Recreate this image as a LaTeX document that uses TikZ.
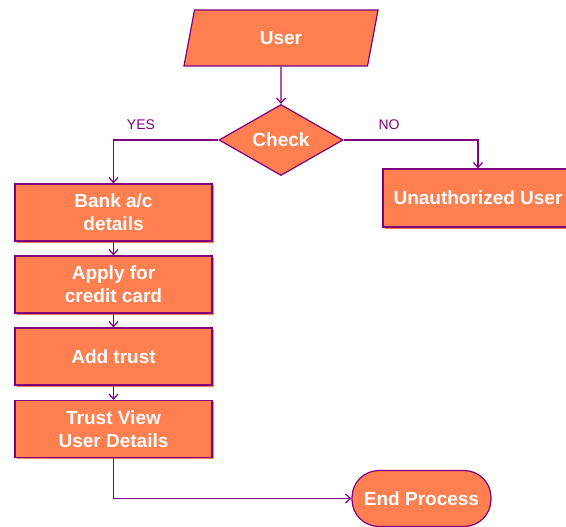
\documentclass[tikz,border=0pt]{standalone}
\usepackage{fontspec}
\setmainfont{Liberation Sans}
\usepackage{tikz}
\usetikzlibrary{shapes.geometric, arrows.meta, shadows}

\definecolor{boxfill}{HTML}{FF7F50}
\definecolor{boxline}{HTML}{800080}

\tikzset{
    block/.style={draw=boxline, fill=boxfill, line width=1.2pt, text=white,
        font=\fontsize{19}{23}\selectfont\bfseries, align=center, inner sep=0pt},
    process/.style={block, rectangle, minimum width=197pt, minimum height=57pt,
        drop shadow={shadow xshift=1.5pt, shadow yshift=-1.5pt, fill=boxfill, opacity=1}},
    inout/.style={block, trapezium, trapezium left angle=79, trapezium right angle=101,
        trapezium stretches=true, minimum width=195pt, minimum height=56pt},
    decision/.style={block, diamond, minimum width=124pt, minimum height=70pt},
    terminal/.style={block, rectangle, rounded corners=27pt, minimum width=139pt, minimum height=56pt},
    flow/.style={draw=boxline, line width=1.2pt, -{Straight Barb[length=5pt, width=9pt]}},
    answer/.style={text=boxline, font=\fontsize{14}{16}\selectfont}
}

\begin{document}
\begin{tikzpicture}[x=1pt, y=-1pt]
    \useasboundingbox (0,0) rectangle (566,527);

    % Các khối của lưu đồ
    \node[inout] (user) at (281,38) {User};
    \node[decision] (check) at (281,140) {Check};
    \node[process] (bank) at (113.5,212.5) {Bank a/c\\details};
    \node[process] (apply) at (113.5,284.5) {Apply for\\credit card};
    \node[process] (trust) at (113.5,356.5) {Add trust};
    \node[process] (view) at (113.5,429) {Trust View\\User Details};
    \node[process, minimum width=190pt, minimum height=58pt] (unauth) at (478,198) {Unauthorized User};
    \node[terminal] (endp) at (421.5,498.5) {End Process};

    % Các đường nối
    \draw[flow] (user) -- (check);
    \draw[flow] (check.west) -| (bank.north);
    \draw[flow] (check.east) -| (unauth.north);
    \draw[flow] (bank) -- (apply);
    \draw[flow] (apply) -- (trust);
    \draw[flow] (trust) -- (view);
    \draw[flow] (view.south) |- (endp.west);

    % Nhãn nhánh
    \node[answer] (yes) at (141,125) {YES};
    \node[answer] (no) at (389,125) {NO};
\end{tikzpicture}
\end{document}
